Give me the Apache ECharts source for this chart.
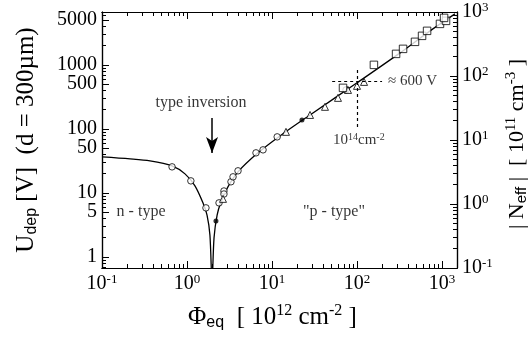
<!DOCTYPE html>
<html>
<head>
<meta charset="utf-8">
<script src="https://cdn.jsdelivr.net/npm/echarts@6.0.0/dist/echarts.min.js"></script>
<style>
  html, body { margin: 0; padding: 0; background: #fff; }
  #chart { width: 530px; height: 340px; }
</style>
</head>
<body>
<div id="chart"></div>
<script>
/* U_dep / |N_eff| vs fluence, log-log */
var SERIF = "Liberation Serif, Times New Roman, serif";
var SANS = "Liberation Sans, Arial, sans-serif";

// fitted curve (phi in 1e12 cm^-2, U in V)
var CURVE_PHI = [0.1, 0.214, 0.367, 0.667, 0.947, 1.24, 1.54, 1.72, 1.86, 1.97, 2.08, 2.26, 2.51, 3.03, 3.98, 6.84, 12.4, 28, 100, 321, 723, 1420];
var CURVE_U   = [36.5, 34, 31.6, 26.4, 19.8, 12.9, 7.0, 4.5, 2.2, 0.4, 2.0, 4.5, 7.2, 12.4, 21.3, 42.2, 77.6, 165, 524, 1540, 3400, 6270];

// measured points
var CIRCLE_PHI = [0.667, 1.11, 1.67, 2.38, 2.72, 2.72, 3.29, 3.48, 3.98, 6.48, 7.84, 11.5, 74.3];
var CIRCLE_U   = [25.5, 15.4, 5.83, 6.98, 10.7, 9.6, 14.9, 17.8, 22.1, 42.2, 47, 75, 406];
var TRIANGLE_PHI = [2.65, 14.6, 28, 42, 59.7, 78.3, 100, 121];
var TRIANGLE_U   = [8.06, 89.8, 165, 221, 305, 406, 470, 542];
var SQUARE_PHI = [68.4, 158, 288, 348, 481, 582, 667, 946, 1114, 1057];
var SQUARE_U   = [437, 1000, 1485, 1778, 2290, 2840, 3400, 4370, 4870, 5420];
var DOT_PHI = [2.19, 22.5];
var DOT_U   = [3.65, 138];

// axes
var X_MIN = 0.1, X_MAX = 1500;
var U_MIN = 0.67, U_MAX = 6700;
var N_MIN = 0.1, N_MAX = 1000;
var X_MAJOR = [0.1, 1, 10, 100, 1000];
var X_EXP = ["-1", "0", "1", "2", "3"];
var U_LABELS = [1, 5, 10, 50, 100, 500, 1000, 5000];
var N_MAJOR = [0.1, 1, 10, 100, 1000];
var N_EXP = ["-1", "0", "1", "2", "3"];
var MINOR_MULT = [2, 3, 4, 5, 6, 7, 8, 9];

// annotations
var NOTE_TEXT = ["type inversion", "n - type", "\"p - type\""];
var NOTE_PHI = [1.46, 0.288, 53.6];
var NOTE_U = [255, 5.05, 5.05];
var CROSS_PHI = 100, CROSS_U = 560;
var CROSS_H = [51, 197];     // phi range of horizontal dashes
var CROSS_V = [107, 900];    // U range of vertical dashes
var ARROW_PHI = 1.97, ARROW_U = [148, 42];

function minors(lo, hi) {
  var out = [];
  for (var d = 0.01; d <= 10000; d *= 10) {
    MINOR_MULT.forEach(function (m) {
      var v = +(m * d).toPrecision(3);
      if (v > lo && v < hi) out.push(v);
    });
  }
  return out;
}
function zip(a, b) { return a.map(function (v, i) { return [v, b[i]]; }); }

var rich = {
  b: { fontFamily: SERIF, fontSize: 20, color: "#000", lineHeight: 22 },
  sup: { fontFamily: SERIF, fontSize: 13, color: "#000", verticalAlign: "top", lineHeight: 22 }
};
var tl = { color: "#000", width: 1 };

function xAx(pos, major, showLabel) {
  return {
    type: "log", logBase: 10, min: X_MIN, max: X_MAX, position: pos,
    axisLine: { show: true, lineStyle: { color: "#000", width: 1.2 } },
    axisTick: { show: true, inside: true, length: major ? 7 : 4, lineStyle: tl,
      customValues: major ? X_MAJOR : minors(X_MIN, X_MAX) },
    axisLabel: { show: showLabel, customValues: X_MAJOR, margin: 5, rich: rich,
      formatter: function (v) { return "{b|10}{sup|" + X_EXP[X_MAJOR.indexOf(+(+v).toPrecision(3))] + "}"; } },
    splitLine: { show: false }, minorTick: { show: false }
  };
}
function yAx(pos, min, max, major, labels, fmt) {
  return {
    type: "log", logBase: 10, min: min, max: max, position: pos,
    axisLine: { show: true, lineStyle: { color: "#000", width: 1.2 } },
    axisTick: { show: true, inside: true, length: major ? 7 : 4, lineStyle: tl,
      customValues: major ? major : minors(min, max) },
    axisLabel: { show: !!labels, customValues: labels || [], margin: 5, rich: rich, formatter: fmt },
    splitLine: { show: false }, minorTick: { show: false }
  };
}

var titleRich = {
  b: { fontFamily: SERIF, fontSize: 25, color: "#000", lineHeight: 28 },
  sup: { fontFamily: SERIF, fontSize: 16, color: "#000", verticalAlign: "top", lineHeight: 28 },
  sub: { fontFamily: SANS, fontSize: 16, color: "#000", verticalAlign: "bottom", lineHeight: 28 }
};
var rightRich = {
  b: { fontFamily: SERIF, fontSize: 22, color: "#000", lineHeight: 26 },
  sup: { fontFamily: SERIF, fontSize: 15, color: "#000", verticalAlign: "top", lineHeight: 26 },
  sub: { fontFamily: SANS, fontSize: 15, color: "#000", verticalAlign: "bottom", lineHeight: 26 }
};

var xAxes = [xAx("bottom", true, true), xAx("bottom", false, false), xAx("top", true, false), xAx("top", false, false)];
xAxes[0].name = "{b|Φ}{sub|eq}{b|  [ 10}{sup|12}{b| cm}{sup|-2}{b| ]}";
xAxes[0].nameLocation = "middle";
xAxes[0].nameGap = 35;
xAxes[0].nameTextStyle = { rich: titleRich, padding: [0, 14, 0, 0] };

var yAxes = [
  yAx("left", U_MIN, U_MAX, U_LABELS, U_LABELS, function (v) { return "{b|" + Math.round(v) + "}"; }),
  yAx("left", U_MIN, U_MAX, null, null),
  yAx("right", N_MIN, N_MAX, N_MAJOR, N_MAJOR, function (v) {
    return "{b|10}{sup|" + N_EXP[N_MAJOR.indexOf(+(+v).toPrecision(3))] + "}"; }),
  yAx("right", N_MIN, N_MAX, null, null)
];
yAxes[0].name = "{b|U}{sub|dep}{b| [V]  (d = 300µm)}";
yAxes[0].nameLocation = "middle";
yAxes[0].nameRotate = 90;
yAxes[0].nameGap = 62;
yAxes[0].nameTextStyle = { rich: titleRich };
yAxes[2].name = "{b|| N}{sub|eff}{b| |  [ 10}{sup|11}{b| cm}{sup|-3}{b| ]}";
yAxes[2].nameLocation = "middle";
yAxes[2].nameRotate = 90;
yAxes[2].nameGap = 42;
yAxes[2].nameTextStyle = { rich: rightRich, padding: [0, 8, 0, 0] };

var open = { color: "#fff", borderColor: "#000", borderWidth: 1 };
var dash = { color: "#000", type: [3, 3], width: 1.2 };

var chart = echarts.init(document.getElementById("chart"), null, { renderer: "canvas" });
chart.setOption({
  backgroundColor: "#fff",
  animation: false,
  grid: { left: 102, right: 73, top: 12, bottom: 72, containLabel: false, outerBoundsMode: "none" },
  xAxis: xAxes,
  yAxis: yAxes,
  series: [
    {
      type: "line", data: zip(CURVE_PHI, CURVE_U), symbol: "none", smooth: 0.3,
      lineStyle: { color: "#000", width: 1.3 }, clip: true, silent: true, z: 2,
      markLine: {
        silent: true, symbol: "none", label: { show: false },
        data: [
          [{ coord: [CROSS_H[0], CROSS_U], lineStyle: dash }, { coord: [CROSS_H[1], CROSS_U] }],
          [{ coord: [CROSS_PHI, CROSS_V[0]], lineStyle: dash }, { coord: [CROSS_PHI, CROSS_V[1]] }],
          [{ coord: [ARROW_PHI, ARROW_U[0]], symbol: "none", lineStyle: { color: "#000", type: "solid", width: 1.5 } },
           { coord: [ARROW_PHI, ARROW_U[1]], symbol: "arrow", symbolSize: [9, 16] }]
        ]
      }
    },
    { type: "scatter", data: zip(CIRCLE_PHI, CIRCLE_U), symbol: "circle", symbolSize: 6.5, itemStyle: open, z: 3 },
    { type: "scatter", data: zip(TRIANGLE_PHI, TRIANGLE_U), symbol: "triangle", symbolSize: 7, itemStyle: open, z: 3 },
    { type: "scatter", data: zip(SQUARE_PHI, SQUARE_U), symbol: "rect", symbolSize: 7.5, itemStyle: open, z: 3 },
    { type: "scatter", data: zip(DOT_PHI, DOT_U), symbol: "circle", symbolSize: 5, itemStyle: { color: "#000" }, z: 3 },
    {
      type: "scatter", symbolSize: 0, silent: true, z: 4,
      data: NOTE_TEXT.map(function (t, i) { return { value: [NOTE_PHI[i], NOTE_U[i]], name: t }; }),
      label: { show: true, position: "inside", color: "#000", fontFamily: SERIF, fontSize: 16,
        formatter: function (p) { return p.name; } }
    },
    {
      type: "scatter", symbolSize: 0, silent: true, z: 4,
      data: [
        { value: [232, CROSS_U], label: { formatter: "≈ 600 V", position: "right", distance: 0 } },
        { value: [105, 67], label: { formatter: "10{s|14}cm{s|-2}", position: "inside" } }
      ],
      label: { show: true, color: "#000", fontFamily: SERIF, fontSize: 15,
        rich: { s: { fontFamily: SERIF, fontSize: 10, color: "#000", verticalAlign: "top", lineHeight: 16 } } }
    }
  ]
});
</script>
</body>
</html>
